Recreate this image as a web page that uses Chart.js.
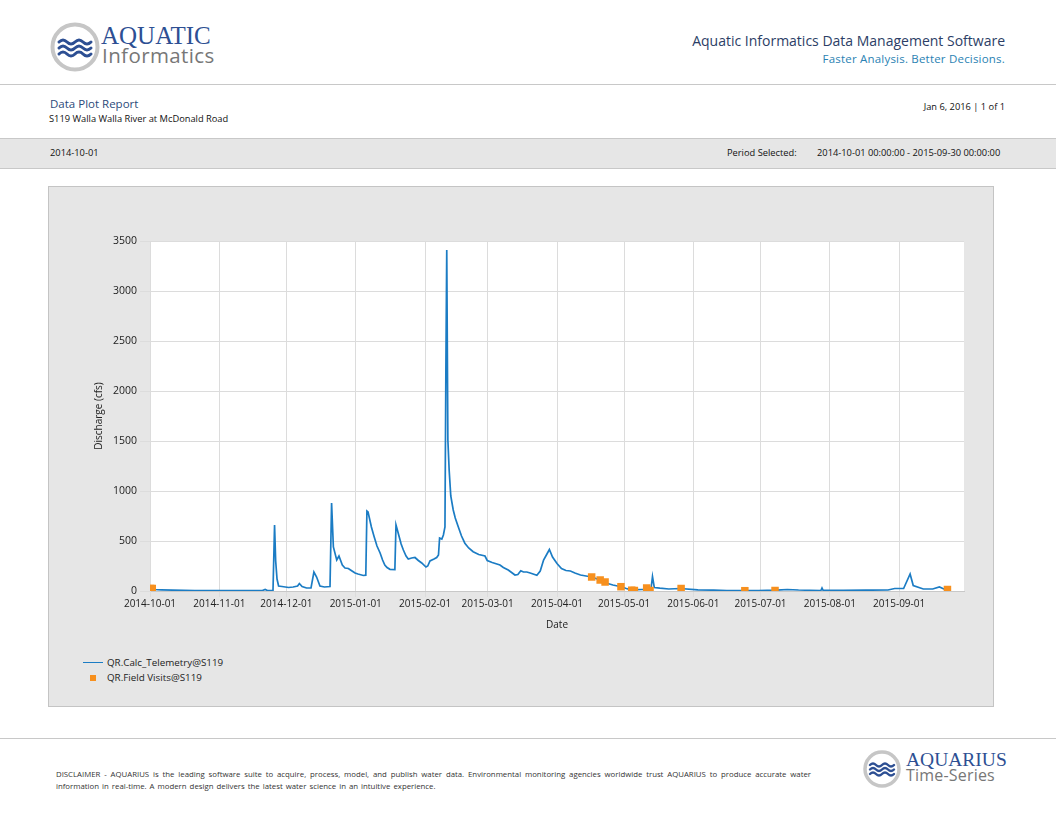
<!DOCTYPE html>
<html>
<head>
<meta charset="utf-8">
<script src="https://cdn.jsdelivr.net/npm/chart.js@4.4.0/dist/chart.umd.min.js"></script>
<style>
  html, body { margin:0; padding:0; background:#fff; }
  body { width:1056px; height:816px; position:relative; overflow:hidden; font-family:"Open Sans", sans-serif; color:#222; }
  .abs { position:absolute; white-space:nowrap; }
  .hline { position:absolute; left:0; width:1056px; height:0; border-top:1px solid #c8c8c8; }
  #band { position:absolute; left:0; top:138px; width:1056px; height:29px; background:#e6e6e6; border-top:1px solid #c8c8c8; border-bottom:1px solid #c8c8c8; }
  #panel { position:absolute; left:48px; top:186px; width:944px; height:519px; background:#e6e6e6; border:1px solid #c4c4c4; }
  #chartCanvas { position:absolute; left:48px; top:186px; }
  .serif { font-family:"Liberation Serif", "DejaVu Serif", serif; }
</style>
</head>
<body>
<!-- header logo -->
<svg class="abs" style="left:48px;top:20px" width="56" height="56" viewBox="0 0 56 56">
  <circle cx="27" cy="27" r="22.5" fill="#fff" stroke="#c6c6c6" stroke-width="4"/>
  <g fill="none" stroke="#2d4f93" stroke-width="3" stroke-linecap="round">
    <path d="M11 22 q4 -4 8 0 t8 0 t8 0 t8 0"/>
    <path d="M11 28 q4 -4 8 0 t8 0 t8 0 t8 0"/>
    <path d="M11 34 q4 -4 8 0 t8 0 t8 0 t8 0"/>
  </g>
</svg>
<div class="abs serif" style="left:101px;top:21px;font-size:25px;line-height:30px;color:#2d4f93;">AQUATIC</div>
<div class="abs" style="left:102px;top:42px;font-size:20.5px;line-height:27px;color:#777;letter-spacing:0.4px;">Informatics</div>

<div class="abs" style="right:51px;top:31px;font-size:14px;line-height:20px;color:#2c3e66;">Aquatic Informatics Data Management Software</div>
<div class="abs" style="right:51px;top:51px;font-size:11.5px;line-height:16px;color:#2a82b3;letter-spacing:0.2px;">Faster Analysis. Better Decisions.</div>

<div class="hline" style="top:84px;"></div>

<div class="abs" style="left:50px;top:96px;font-size:11.5px;line-height:16px;color:#2c4a7a;">Data Plot Report</div>
<div class="abs" style="left:49px;top:112px;font-size:9.3px;line-height:14px;color:#111;">S119 Walla Walla River at McDonald Road</div>
<div class="abs" style="right:51px;top:100px;font-size:9.3px;line-height:14px;color:#111;">Jan 6, 2016 | 1 of 1</div>

<div id="band"></div>
<div class="abs" style="left:50px;top:146px;font-size:9.3px;line-height:14px;color:#111;">2014-10-01</div>
<div class="abs" style="left:727px;top:146px;font-size:9.3px;line-height:14px;color:#111;">Period Selected:</div>
<div class="abs" style="left:817px;top:146px;font-size:9.3px;line-height:14px;color:#111;">2014-10-01 00:00:00 - 2015-09-30 00:00:00</div>

<div id="panel"></div>
<canvas id="chartCanvas" width="945" height="460" style="width:945px;height:460px;"></canvas>

<!-- legend -->
<div class="abs" style="left:83px;top:662px;width:20px;height:0;border-top:1.5px solid #1b7cc4;"></div>
<div class="abs" style="left:107px;top:655px;font-size:9.8px;line-height:16px;color:#222;">QR.Calc_Telemetry@S119</div>
<div class="abs" style="left:90px;top:675px;width:6px;height:6px;background:#f7901e;"></div>
<div class="abs" style="left:107px;top:670px;font-size:9.8px;line-height:16px;color:#222;">QR.Field Visits@S119</div>

<div class="hline" style="top:738px;"></div>

<div class="abs" style="left:56px;top:768px;width:755px;font-size:7.8px;line-height:12px;color:#333;text-align:justify;text-align-last:justify;white-space:normal;">DISCLAIMER - AQUARIUS is the leading software suite to acquire, process, model, and publish water data. Environmental monitoring agencies worldwide trust AQUARIUS to produce accurate water</div>
<div class="abs" style="left:56px;top:780px;font-size:7.8px;line-height:12px;color:#333;word-spacing:1px;">information in real-time. A modern design delivers the latest water science in an intuitive experience.</div>

<svg class="abs" style="left:862px;top:749px" width="40" height="40" viewBox="0 0 40 40">
  <circle cx="20" cy="20" r="17" fill="#fff" stroke="#c6c6c6" stroke-width="3.5"/>
  <g fill="none" stroke="#2d4f93" stroke-width="2.4" stroke-linecap="round">
    <path d="M8 16 q3 -3 6 0 t6 0 t6 0 t6 0"/>
    <path d="M8 20.5 q3 -3 6 0 t6 0 t6 0 t6 0"/>
    <path d="M8 25 q3 -3 6 0 t6 0 t6 0 t6 0"/>
  </g>
</svg>
<div class="abs serif" style="left:906px;top:748px;font-size:19.5px;line-height:23px;color:#2d4f93;">AQUARIUS</div>
<div class="abs" style="left:906px;top:765px;font-size:16px;line-height:21px;color:#777;letter-spacing:0.2px;">Time-Series</div>

<script>
// ---- data (x = days since 2014-10-01) ----
const monthTickDays = [0, 31, 61, 92, 123, 151, 182, 212, 243, 273, 304, 335];
const monthTickLabels = ['2014-10-01','2014-11-01','2014-12-01','2015-01-01','2015-02-01','2015-03-01',
  '2015-04-01','2015-05-01','2015-06-01','2015-07-01','2015-08-01','2015-09-01'];

const telemetryDays = [
  0, 2, 5, 10, 15, 20, 25, 31, 40, 50, 51.5, 52.5, 55,
  55.7, 56.2, 56.8, 57.5, 59, 62, 64, 66, 66.8, 68, 70, 72,
  73.3, 74.5, 76, 78, 80.5,
  81.2, 82, 83.5, 84.5, 86, 87.2, 88.7, 90, 91.7, 93, 95.4, 96.5,
  97, 97.5, 98, 99, 100.2, 101.5, 102.9, 104, 105, 106, 107.3, 109.5,
  110, 110.5, 111.4, 112.3, 113.3, 114.5, 115.5, 117, 118.5, 120, 121.5, 123.4, 124.2, 125.2, 127, 128.2,
  129, 129.5, 130.5, 131.2, 131.9, 132.3, 132.7, 133.2, 133.8, 134.5, 135.6, 136.5, 137.8, 139.3,
  140.8, 142.5, 144.5, 147, 149.8, 150.8, 153, 156.5, 158, 160.2, 162, 163.2, 164.5, 165.8, 167, 168.5,
  170, 173, 174.5, 176, 177.5, 178.6, 180, 182, 184, 186, 188, 190, 192.5, 195, 197.5, 200, 202, 204.3,
  207, 210.6, 213, 215, 220, 224, 224.7, 225.5,
  228, 232, 237, 245, 252, 258, 265, 272, 280, 285, 290, 300, 300.5, 301, 310, 320, 330, 333, 337,
  339.9, 341.3, 345.8, 350, 353, 355, 357];
const telemetryCfs = [
  18, 15, 12, 9, 7, 5, 4, 3, 3, 3, 15, 5, 5,
  660, 300, 120, 50, 45, 35, 40, 50, 75, 45, 30, 30,
  190, 140, 50, 40, 45,
  880, 440, 310, 350, 260, 230, 225, 205, 180, 170, 155, 158,
  800, 790, 740, 640, 545, 450, 380, 310, 260, 235, 217, 215,
  660, 620, 545, 470, 410, 350, 320, 330, 335, 305, 280, 240, 250, 300, 320, 335,
  360, 530, 520, 560, 640, 2180, 3410, 1510, 1200, 950, 810, 730, 645, 550,
  478, 430, 393, 365, 350, 305, 285, 260, 235, 210, 180, 160, 165, 203, 190, 190,
  180, 158, 200, 310, 370, 415, 340, 275, 225, 205, 200, 180, 160, 150, 140, 120, 100, 77,
  60, 43, 25, 12, 15, 15, 145, 35,
  28, 20, 25, 12, 8, 5, 3, 5, 8, 15, 10, 5, 30, 6, 6, 8, 10, 25, 25,
  170, 55, 20, 20, 40, 20, 15];

const visitDays = [0.3, 1.0, 197.5, 201.3, 203.5, 210.6, 215.4, 216.6, 222.1, 223.6, 237.5, 266, 279.5, 356.6];
const visitCfs  = [25, 25, 140, 110, 90, 43, 8, 5, 30, 5, 25, 3, 5, 15];

const toXY = (xs, ys) => xs.map((x, i) => ({ x: x, y: ys[i] }));

const whiteArea = {
  id: 'whiteArea',
  beforeDraw(chart) {
    const { ctx, chartArea: a } = chart;
    ctx.save();
    ctx.fillStyle = '#ffffff';
    ctx.fillRect(a.left, a.top, a.right - a.left, a.bottom - a.top);
    ctx.restore();
  }
};

const tickFont = { family: 'Open Sans', size: 10 };

new Chart(document.getElementById('chartCanvas'), {
  type: 'line',
  data: {
    datasets: [
      {
        label: 'QR.Field Visits@S119',
        data: toXY(visitDays, visitCfs),
        showLine: false,
        pointStyle: 'rect',
        pointRadius: 5.3,
        pointBackgroundColor: '#f7901e',
        pointBorderWidth: 0,
        borderColor: '#f7901e',
        order: 0
      },
      {
        label: 'QR.Calc_Telemetry@S119',
        data: toXY(telemetryDays, telemetryCfs),
        borderColor: '#1b7cc4',
        borderWidth: 1.7,
        pointRadius: 0,
        tension: 0,
        fill: false,
        order: 1
      }
    ]
  },
  options: {
    responsive: false,
    animation: false,
    devicePixelRatio: 1,
    layout: { padding: { top: 55, right: 29, left: 0, bottom: 0 } },
    plugins: { legend: { display: false }, tooltip: { enabled: false } },
    scales: {
      x: {
        type: 'linear',
        min: 0,
        max: 364,
        afterBuildTicks: (s) => { s.ticks = monthTickDays.map(v => ({ value: v })); },
        afterFit: (s) => { s.height = 55; },
        ticks: {
          autoSkip: false, maxRotation: 0, minRotation: 0, padding: 1,
          color: '#222', font: tickFont,
          callback: (v) => { const i = monthTickDays.indexOf(v); return i >= 0 ? monthTickLabels[i] : ''; }
        },
        grid: { color: '#dcdcdc', lineWidth: 1, tickLength: 6, drawTicks: true },
        border: { display: true, color: '#c8c8c8', width: 1 },
        title: { display: true, text: 'Date', color: '#222', font: tickFont, padding: { top: 4, bottom: 15 } }
      },
      y: {
        min: 0,
        max: 3500,
        afterFit: (s) => { s.width = 102; },
        ticks: { stepSize: 500, padding: 3, color: '#222', font: { family: 'Open Sans', size: 10.5 },
          callback: (v) => String(v) },
        grid: { color: '#dcdcdc', lineWidth: 1, tickLength: 10 },
        border: { display: true, color: '#dcdcdc', width: 1 },
        title: { display: true, text: 'Discharge (cfs)', color: '#222', font: tickFont, padding: { top: 45, bottom: 0 } }
      }
    }
  },
  plugins: [whiteArea]
});
</script>
</body>
</html>
